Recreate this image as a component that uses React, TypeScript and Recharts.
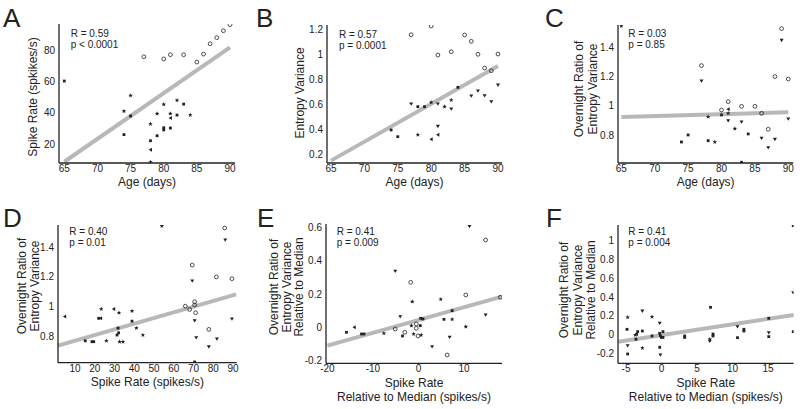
import React from "react";
import { ScatterChart, Scatter, XAxis, YAxis, ReferenceLine, Label } from "recharts";

// marker codes: o = open circle, v = triangle down, < = triangle left, * = star, s = square
type Kind = "o" | "v" | "<" | "*" | "s";
type Pt = [number, number, Kind];

const A_POINTS: Pt[] = [
  [77, 75.7, "o"], [80, 74.3, "o"], [81, 77, "o"], [83, 77, "o"], [85, 72.3, "o"],
  [86, 77.4, "o"], [87, 84, "o"], [88, 87.9, "o"], [89, 92.3, "o"], [90, 96.2, "o"],
  [65, 60.2, "s"], [75, 50.9, "*"], [74, 41, "*"], [74, 26, "s"], [75, 37.9, "s"],
  [78, 32.8, "*"], [78, 22.1, "s"], [78, 16.4, "<"], [78, 8.5, "*"], [79, 39.4, "*"],
  [79, 25.3, "s"], [80, 45.3, "*"], [80, 30.4, "s"], [80, 29, "s"], [81, 39.4, "*"],
  [81, 36.6, "<"], [81, 30.2, "s"], [82, 47.9, "*"], [82, 38.5, "s"], [83, 45.5, "s"],
  [84, 38.5, "*"],
];

const B_POINTS: Pt[] = [
  [77, 1.157, "o"], [80, 1.227, "o"], [81, 0.994, "o"], [83, 1.021, "o"], [85, 1.155, "o"],
  [86, 1.104, "o"], [87, 1.0, "o"], [88, 0.89, "o"], [89, 0.868, "o"], [90, 1.002, "o"],
  [77, 0.601, "v"], [81, 0.601, "v"], [83, 0.561, "v"], [86, 0.665, "v"], [87, 0.705, "v"],
  [88, 0.668, "v"], [89, 0.62, "v"], [90, 0.753, "v"], [81, 0.422, "v"],
  [81, 0.355, "<"], [80, 0.318, "<"],
  [74, 0.393, "s"], [75, 0.339, "s"], [78, 0.355, "*"], [78, 0.58, "s"], [79, 0.58, "s"],
  [80, 0.614, "*"], [82, 0.58, "*"], [83, 0.633, "*"], [84, 0.735, "s"],
];

const C_POINTS: Pt[] = [
  [77, 1.275, "o"], [80, 0.971, "o"], [81, 1.028, "o"], [83, 0.996, "o"], [85, 0.996, "o"],
  [86, 0.948, "o"], [87, 0.839, "o"], [89, 1.528, "o"], [88, 1.2, "o"], [90, 1.183, "o"],
  [77, 1.17, "v"], [81, 0.898, "v"], [83, 0.889, "v"], [86, 0.777, "v"], [87, 0.713, "v"],
  [88, 0.77, "v"], [89, 1.448, "v"], [90, 0.909, "v"],
  [65, 1.546, "*"], [74, 0.752, "s"], [75, 0.8, "s"], [78, 0.925, "*"], [78, 0.761, "s"],
  [79, 0.752, "*"], [80, 0.937, "s"], [81, 0.976, "<"], [81, 0.948, "*"], [82, 0.843, "*"],
  [84, 0.807, "s"], [83, 0.613, "s"],
];

const D_POINTS: Pt[] = [
  [69.4, 1.28, "o"], [65.9, 1.002, "o"], [68.1, 0.98, "o"], [70.6, 1.032, "o"], [70.6, 1.01, "o"],
  [71.1, 0.958, "o"], [77.8, 0.845, "o"], [81.6, 1.2, "o"], [85.8, 1.531, "o"], [89.5, 1.188, "o"],
  [69.4, 1.172, "v"], [70.6, 0.904, "v"], [71.4, 0.789, "v"], [77.8, 0.727, "v"], [81.9, 0.78, "v"],
  [86.1, 1.45, "v"], [89.5, 0.915, "v"],
  [54, 1.545, "*"], [4.8, 0.933, "<"], [15.2, 0.768, "s"], [18.6, 0.762, "s"], [19.5, 0.762, "s"],
  [23, 0.92, "<"], [22, 0.92, "s"], [23.3, 0.983, "*"], [25.9, 0.768, "*"], [29.6, 0.983, "<"],
  [32.3, 0.958, "*"], [31.3, 0.807, "s"], [31.8, 0.854, "s"], [32.1, 0.822, "s"], [32.6, 0.762, "*"],
  [34.3, 0.762, "*"], [38.9, 0.969, "*"], [38.9, 0.901, "s"], [41.1, 0.854, "*"], [44.4, 0.807, "*"],
  [70.6, 0.625, "s"],
];

const E_POINTS: Pt[] = [
  [14.75, 0.524, "o"], [10.4, 0.194, "o"], [18.0, 0.18, "o"], [-1.7, 0.27, "o"], [-5.1, -0.01, "o"],
  [-3.0, -0.03, "o"], [-0.47, 0.02, "o"], [-0.47, -0.006, "o"], [-0.1, -0.052, "o"], [6.3, -0.166, "o"],
  [11.2, 0.605, "v"], [-5.1, 0.336, "v"], [-4.0, 0.064, "v"], [14.75, 0.074, "v"], [6.85, -0.06, "v"],
  [3.0, -0.116, "v"],
  [-15.8, -0.03, "s"], [-14.1, 0, "<"], [-12.5, -0.04, "s"], [-11.95, -0.04, "s"], [-7.6, -0.036, "*"],
  [-3.5, -0.052, "s"], [-1.35, 0.154, "*"], [-1.55, 0.01, "*"], [-1.05, -0.04, "*"], [0.5, 0.054, "s"],
  [1.0, 0.05, "s"], [0.4, 0.01, "s"], [0.6, -0.046, "*"], [4.9, 0.168, "*"], [5.6, 0.048, "s"],
  [7.4, 0.048, "*"], [7.4, 0.1, "s"], [10.4, 0.004, "*"],
];

const F_POINTS: Pt[] = [
  [18.55, 1.16, "s"], [18.55, 0.446, "v"], [18.55, 0.031, "s"], [6.9, 0.29, "s"], [15.1, 0.173, "s"],
  [15.1, 0.02, "v"], [15.1, -0.022, "s"], [-4.77, 0.184, "*"], [-4.86, 0.056, "s"], [-4.77, -0.118, "v"],
  [-4.77, -0.207, "s"], [-2.7, 0.25, "v"], [-2.7, 0.038, "s"], [-2.7, -0.143, "*"], [-3.36, 0.031, "s"],
  [-3.5, 0.003, "s"], [-3.7, -0.005, "*"], [-3.6, -0.05, "s"], [-1.34, 0.19, "*"], [-1.34, -0.015, "s"],
  [-0.26, 0.12, "v"], [-0.26, 0.013, "s"], [-0.16, -0.012, "s"], [-0.02, -0.03, "s"], [-0.26, -0.136, "s"],
  [-0.16, -0.218, "v"], [0.2, 0.031, "s"], [0.2, -0.03, "s"], [3.26, -0.015, "s"], [3.26, -0.03, "s"],
  [6.8, -0.05, "*"], [6.8, -0.07, "v"], [7.25, 0.006, "s"], [7.25, -0.015, "s"], [10.7, 0.084, "v"],
  [10.7, -0.033, "s"], [11.6, 0.056, "s"], [11.6, 0.038, "s"],
];

// regression lines: [[x0, y0], [x1, y1]]
const A_FIT = [[65, 8.7], [90, 81.7]];
const B_FIT = [[65, 0.147], [90, 0.906]];
const C_FIT = [[65, 0.923], [90, 0.955]];
const D_FIT = [[1.4, 0.735], [91.6, 1.082]];
const E_FIT = [[-20, -0.11], [18.3, 0.184]];
const F_FIT = [[-6.1, -0.076], [18.6, 0.208]];

const A_STATS = ["R = 0.59", "p < 0.0001"];
const B_STATS = ["R = 0.57", "p = 0.0001"];
const C_STATS = ["R = 0.03", "p = 0.85"];
const D_STATS = ["R = 0.40", "p = 0.01"];
const E_STATS = ["R = 0.41", "p = 0.009"];
const F_STATS = ["R = 0.41", "p = 0.004"];

const AGE_TICKS = [65, 70, 75, 80, 85, 90];
const RATE_TICKS = [10, 20, 30, 40, 50, 60, 70, 80, 90];
const E_X_TICKS = [-20, -10, 0, 10];
const F_X_TICKS = [-5, 0, 5, 10, 15];
const A_Y_TICKS = [20, 40, 60, 80];
const B_Y_TICKS = [0.2, 0.4, 0.6, 0.8, 1, 1.2];
const RATIO_TICKS = [0.8, 1, 1.2, 1.4];
const E_Y_TICKS = [-0.2, 0, 0.2, 0.4, 0.6];
const F_Y_TICKS = [-0.2, 0, 0.2, 0.4, 0.6, 0.8, 1];

const AGE_TITLE = ["Age (days)"];
const RATE_TITLE = ["Spike Rate (spikes/s)"];
const REL_RATE_TITLE = ["Spike Rate", "Relative to Median (spikes/s)"];
const A_Y_TITLE = ["Spike Rate (spkikes/s)"];
const B_Y_TITLE = ["Entropy Variance"];
const RATIO_TITLE = ["Overnight Ratio of", "Entropy Variance"];
const REL_RATIO_TITLE = ["Overnight Ratio of", "Entropy Variance", "Relative to Median"];

const FONT = '"Liberation Sans", Arial, Helvetica, sans-serif';
const INK = "#222";
const KINDS: Kind[] = ["o", "v", "<", "*", "s"];
const Y_AXIS_W = 70;
const TOP_PAD = 10;

function Marker({ cx, cy, kind }: { cx: number; cy: number; kind: Kind }) {
  if (cx == null || cy == null) return null;
  if (kind === "o") {
    return <circle cx={cx} cy={cy} r={1.9} fill="none" stroke={INK} strokeWidth={0.8} />;
  }
  if (kind === "s") {
    return <rect x={cx - 1.4} y={cy - 1.4} width={2.8} height={2.8} fill={INK} />;
  }
  if (kind === "v") {
    return <polygon points={`${cx - 2},${cy - 1.5} ${cx + 2},${cy - 1.5} ${cx},${cy + 1.8}`} fill={INK} />;
  }
  if (kind === "<") {
    return <polygon points={`${cx + 1.5},${cy - 2} ${cx + 1.5},${cy + 2} ${cx - 1.8},${cy}`} fill={INK} />;
  }
  const pts: string[] = [];
  for (let i = 0; i < 10; i++) {
    const r = i % 2 === 0 ? 2.4 : 1;
    const a = -Math.PI / 2 + (i * Math.PI) / 5;
    pts.push(`${cx + r * Math.cos(a)},${cy + r * Math.sin(a)}`);
  }
  return <polygon points={pts.join(" ")} fill={INK} />;
}

type Panel = {
  id: string;
  points: Pt[];
  fit: number[][];
  stats: string[];
  xTicks: number[];
  yTicks: number[];
  xDomain: [number, number];
  yDomain: [number, number];
  xTitle: string[];
  yTitle: string[];
  box: { l: number; t: number; r: number; b: number };
  yDist: number[];
  yMid: number;
  xMid: number[];
  letter: [number, number];
  statPos: [number, number];
};

const PANELS: Panel[] = [
  {
    id: "A", points: A_POINTS, fit: A_FIT, stats: A_STATS, xTicks: AGE_TICKS, yTicks: A_Y_TICKS,
    xDomain: [64.2, 90.75], yDomain: [7.9, 96.6], xTitle: AGE_TITLE, yTitle: A_Y_TITLE,
    box: { l: 59, t: 24, r: 235, b: 163 }, yDist: [26], yMid: 97, xMid: [182],
    letter: [3, 26.6], statPos: [70.7, 33.3],
  },
  {
    id: "B", points: B_POINTS, fit: B_FIT, stats: B_STATS, xTicks: AGE_TICKS, yTicks: B_Y_TICKS,
    xDomain: [64.4, 90.6], yDomain: [0.128, 1.235], xTitle: AGE_TITLE, yTitle: B_Y_TITLE,
    box: { l: 327, t: 25, r: 502, b: 163 }, yDist: [27], yMid: 93, xMid: [182],
    letter: [256, 26.6], statPos: [339, 34],
  },
  {
    id: "C", points: C_POINTS, fit: C_FIT, stats: C_STATS, xTicks: AGE_TICKS, yTicks: RATIO_TICKS,
    xDomain: [64.5, 90.75], yDomain: [0.608, 1.553], xTitle: AGE_TITLE, yTitle: RATIO_TITLE,
    box: { l: 617.7, t: 25, r: 793, b: 163 }, yDist: [39, 25], yMid: 89, xMid: [182],
    letter: [545, 26.6], statPos: [628.3, 33],
  },
  {
    id: "D", points: D_POINTS, fit: D_FIT, stats: D_STATS, xTicks: RATE_TICKS, yTicks: RATIO_TICKS,
    xDomain: [1.4, 91.9], yDomain: [0.62, 1.551], xTitle: RATE_TITLE, yTitle: RATIO_TITLE,
    box: { l: 58.3, t: 225, r: 237, b: 362.7 }, yDist: [36, 22.5], yMid: 286, xMid: [382],
    letter: [3, 226.8], statPos: [69.3, 231.7],
  },
  {
    id: "E", points: E_POINTS, fit: E_FIT, stats: E_STATS, xTicks: E_X_TICKS, yTicks: E_Y_TICKS,
    xDomain: [-20.3, 18.35], yDomain: [-0.216, 0.62], xTitle: REL_RATE_TITLE, yTitle: REL_RATIO_TITLE,
    box: { l: 326.3, t: 224, r: 502.3, b: 363.3 }, yDist: [52.3, 39.3, 27], yMid: 287, xMid: [383, 397],
    letter: [257, 226.8], statPos: [336.7, 231.7],
  },
  {
    id: "F", points: F_POINTS, fit: F_FIT, stats: F_STATS, xTicks: F_X_TICKS, yTicks: F_Y_TICKS,
    xDomain: [-6.13, 18.6], yDomain: [-0.306, 1.167], xTitle: REL_RATE_TITLE, yTitle: REL_RATIO_TITLE,
    box: { l: 617.7, t: 225, r: 793.3, b: 363.3 }, yDist: [53.7, 40, 26.7], yMid: 290, xMid: [383, 397],
    letter: [546, 226.8], statPos: [628.3, 231.7],
  },
];

const tickStyle = { fill: INK, fontSize: 10, fontFamily: FONT };
const axisStyle = { stroke: INK, strokeWidth: 1.3 };

function PanelChart({ p }: { p: Panel }) {
  const plotW = p.box.r - p.box.l;
  const plotH = p.box.b - p.box.t;
  const left = p.box.l - Y_AXIS_W;
  const top = p.box.t - TOP_PAD;
  const width = plotW + Y_AXIS_W + 8;
  const height = plotH + TOP_PAD + 44;

  const yTitle = () => (
    <g>
      {p.yTitle.map((s, i) => (
        <text
          key={s}
          transform={`translate(${Y_AXIS_W - p.yDist[i]},${p.yMid - top}) rotate(-90)`}
          textAnchor="middle"
          dominantBaseline="central"
          fontSize={12}
          fontFamily={FONT}
          fill={INK}
        >
          {s}
        </text>
      ))}
    </g>
  );

  const xTitle = () => (
    <g>
      {p.xTitle.map((s, i) => (
        <text
          key={s}
          x={Y_AXIS_W + plotW / 2}
          y={p.xMid[i] - top}
          textAnchor="middle"
          dominantBaseline="central"
          fontSize={12}
          fontFamily={FONT}
          fill={INK}
        >
          {s}
        </text>
      ))}
    </g>
  );

  return (
    <div style={{ position: "absolute", left, top }}>
      <ScatterChart width={width} height={height} margin={{ top: TOP_PAD, right: 8, left: 0, bottom: 0 }}>
        <XAxis
          type="number"
          dataKey="x"
          domain={p.xDomain}
          ticks={p.xTicks}
          interval={0}
          allowDataOverflow
          height={44}
          tick={tickStyle}
          tickLine={false}
          tickSize={0}
          tickMargin={2}
          axisLine={axisStyle}
        >
          <Label content={xTitle} />
        </XAxis>
        <YAxis
          type="number"
          dataKey="y"
          domain={p.yDomain}
          ticks={p.yTicks}
          interval={0}
          allowDataOverflow
          width={Y_AXIS_W}
          tick={tickStyle}
          tickLine={false}
          tickSize={0}
          tickMargin={4}
          axisLine={axisStyle}
        >
          <Label content={yTitle} />
        </YAxis>
        <ReferenceLine
          segment={[
            { x: p.fit[0][0], y: p.fit[0][1] },
            { x: p.fit[1][0], y: p.fit[1][1] },
          ]}
          stroke="#b8b8b8"
          strokeWidth={4}
          ifOverflow="visible"
        />
        {KINDS.map((k) => (
          <Scatter
            key={k}
            data={p.points.filter((d) => d[2] === k).map((d) => ({ x: d[0], y: d[1] }))}
            isAnimationActive={false}
            shape={(props: any) => <Marker cx={props.cx} cy={props.cy} kind={k} />}
          />
        ))}
      </ScatterChart>
    </div>
  );
}

export default function App() {
  return (
    <div
      style={{
        position: "absolute",
        left: 0,
        top: 0,
        width: 800,
        height: 409,
        background: "#fff",
        overflow: "hidden",
        fontFamily: FONT,
      }}
    >
      {PANELS.map((p) => (
        <PanelChart key={p.id} p={p} />
      ))}
      <svg
        width={800}
        height={409}
        style={{ position: "absolute", left: 0, top: 0, pointerEvents: "none" }}
      >
        {PANELS.map((p) => (
          <g key={p.id} fontFamily={FONT} fill={INK}>
            <text x={p.letter[0]} y={p.letter[1]} fontSize={26}>
              {p.id}
            </text>
            {p.stats.map((s, i) => (
              <text key={s} x={p.statPos[0]} y={p.statPos[1] + i * 11} fontSize={10} dominantBaseline="central">
                {s}
              </text>
            ))}
          </g>
        ))}
      </svg>
    </div>
  );
}
